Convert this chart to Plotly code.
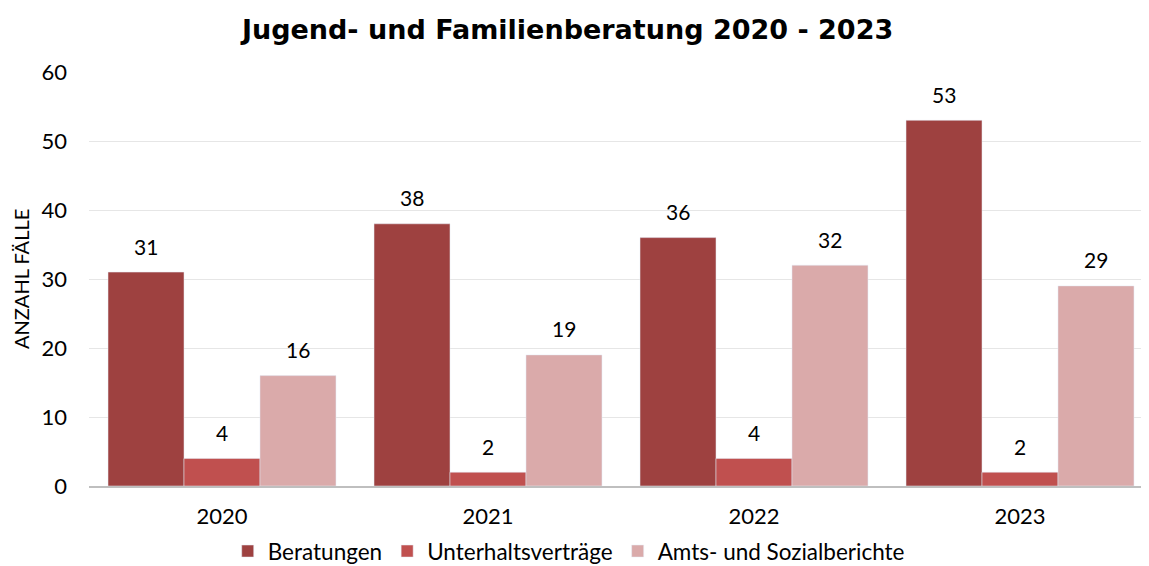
import plotly.graph_objects as go

years = ["2020", "2021", "2022", "2023"]
beratungen = [31, 38, 36, 53]
unterhalt = [4, 2, 4, 2]
berichte = [16, 19, 32, 29]

series = [
    ("Beratungen", beratungen, "#9E4140"),
    ("Unterhaltsverträge", unterhalt, "#C0504F"),
    ("Amts- und Sozialberichte", berichte, "#DAAAAA"),
]

BARGAP = 0.143
bar_w = (1 - BARGAP) / len(series)

fig = go.Figure()
for k, (name, vals, color) in enumerate(series):
    fig.add_trace(go.Bar(x=years, y=vals, name=name, marker_color=color))
    # value labels above the bars
    off = (k - (len(series) - 1) / 2) * bar_w
    for i, v in enumerate(vals):
        fig.add_annotation(x=i + off, y=v, text=str(v), showarrow=False,
                           yanchor="middle", yshift=26,
                           font=dict(size=21, color="#000000"))

# y axis title as an annotation (axis title misbehaves with automargin off)
fig.add_annotation(text="ANZAHL FÄLLE", xref="paper", yref="paper", x=0, y=0.5,
                   xanchor="center", yanchor="middle", xshift=-68, textangle=-90,
                   showarrow=False, font=dict(size=20, color="#000000"))

# the page body has an 8px margin, so everything is drawn 8px in from the window edge
fig.update_layout(
    title=dict(text="<b>Jugend- und Familienberatung 2020 - 2023</b>",
               x=0.487, xanchor="center", yref="container", y=1 - 22 / 558, yanchor="middle",
               font=dict(family="DejaVu Sans", size=27, color="#000000")),
    font=dict(family="Lato", size=21, color="#000000"),
    barmode="group", bargap=BARGAP, bargroupgap=0,
    plot_bgcolor="white", paper_bgcolor="white",
    width=1149, height=558,
    margin=dict(l=81, r=4, t=64, b=80, autoexpand=False),
    legend=dict(orientation="h", xref="container", x=0.488, xanchor="center",
                y=-0.158, yanchor="middle",
                font=dict(size=22.5), traceorder="normal"),
)
fig.update_yaxes(range=[0, 60], dtick=10, showgrid=True, gridcolor="#E6E6E6",
                 zeroline=False, automargin=False, ticklabelstandoff=21,
                 tickfont=dict(size=22), ticks="", showline=False)
fig.update_xaxes(showline=True, linecolor="#BFBFBF", linewidth=2, tickfont=dict(size=22),
                 ticks="", automargin=False, ticklabelstandoff=10)

fig.write_html("out.html")
